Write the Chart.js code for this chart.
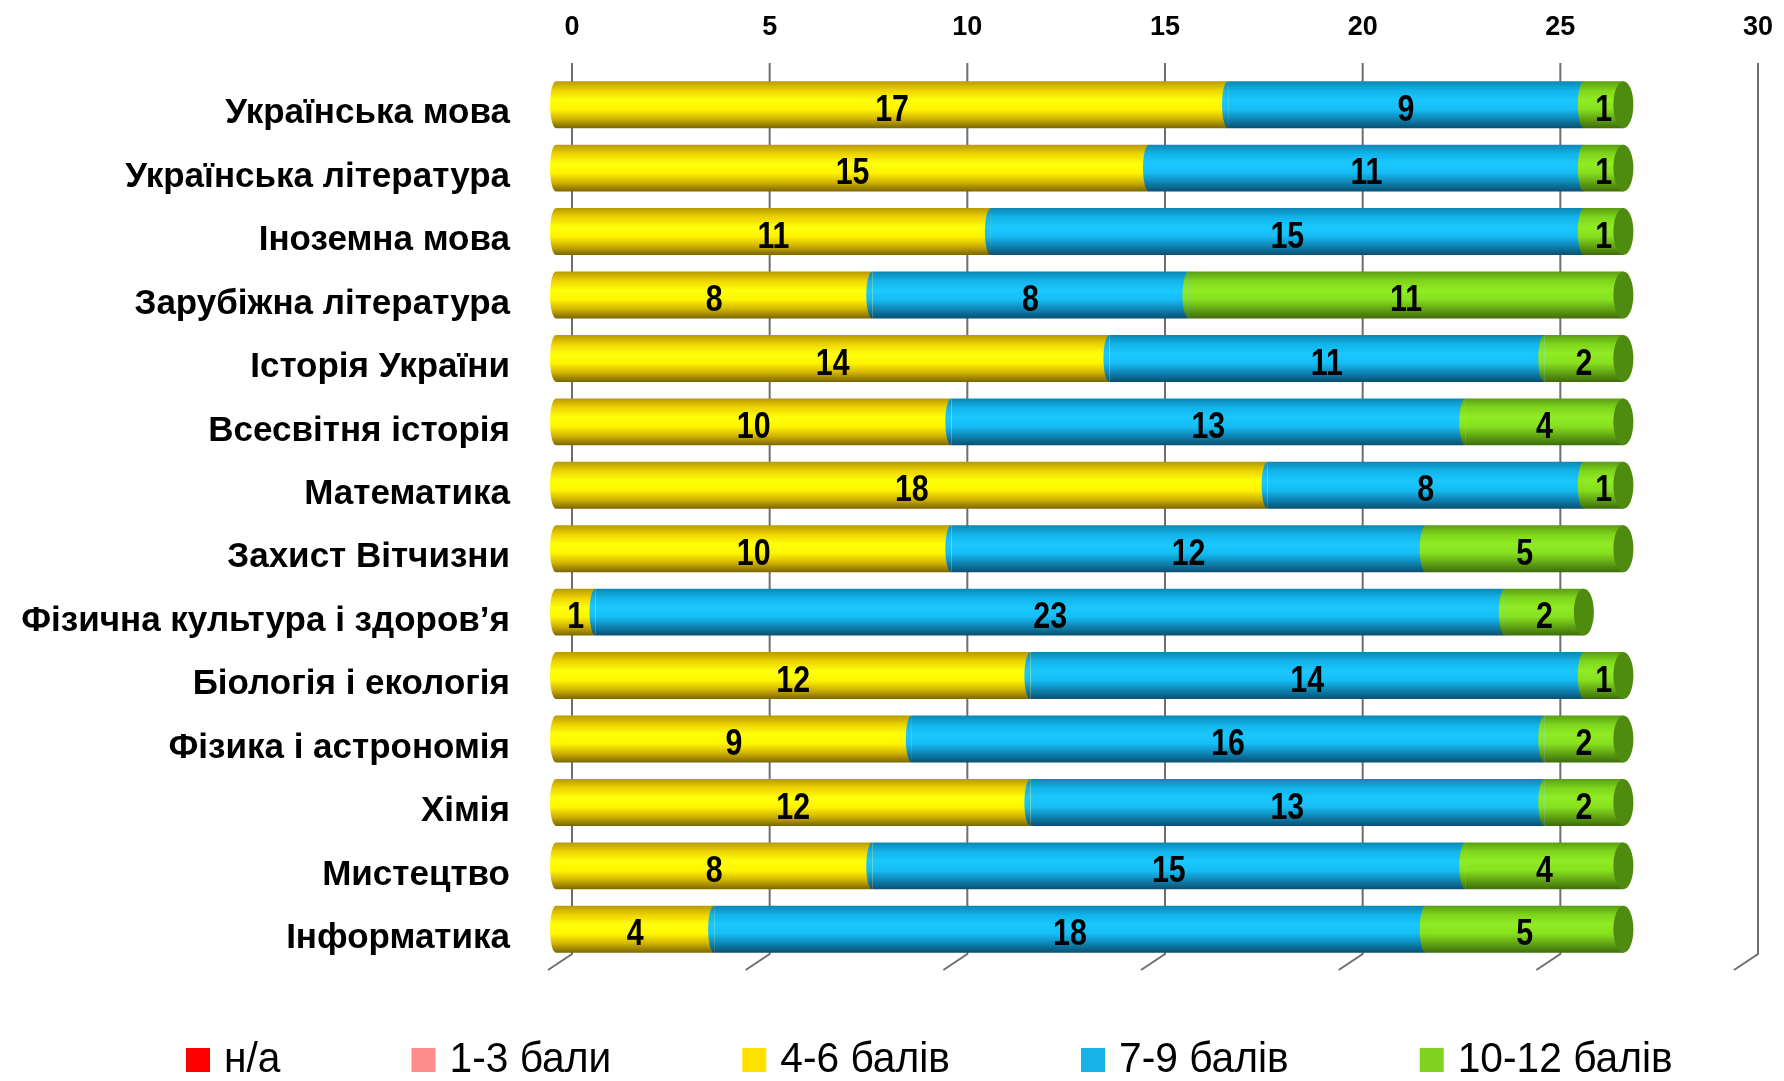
<!DOCTYPE html>
<html lang="uk">
<head>
<meta charset="utf-8">
<title>Розподіл балів за предметами</title>
<script src="https://cdn.jsdelivr.net/npm/chart.js@4.4.1/dist/chart.umd.min.js"></script>
<style>
  html, body { margin: 0; padding: 0; background: #fff; }
  #wrap { width: 1784px; height: 1081px; position: relative; }
</style>
</head>
<body>
<div id="wrap"><canvas id="chart"></canvas></div>
<script>
// subjects, top to bottom
const subjects = [
  'Українська мова', 'Українська література', 'Іноземна мова', 'Зарубіжна література',
  'Історія України', 'Всесвітня історія', 'Математика', 'Захист Вітчизни',
  'Фізична культура і здоров’я', 'Біологія і екологія', 'Фізика і астрономія',
  'Хімія', 'Мистецтво', 'Інформатика'
];

const seriesNames = ['н/а', '1-3 бали', '4-6 балів', '7-9 балів', '10-12 балів'];

// number of pupils in each score band
const naValues      = [0, 0, 0, 0, 0, 0, 0, 0, 0, 0, 0, 0, 0, 0];
const low13Values   = [0, 0, 0, 0, 0, 0, 0, 0, 0, 0, 0, 0, 0, 0];
const mid46Values   = [17, 15, 11, 8, 14, 10, 18, 10, 1, 12, 9, 12, 8, 4];
const good79Values  = [9, 11, 15, 8, 11, 13, 8, 12, 23, 14, 16, 13, 15, 18];
const top1012Values = [1, 1, 1, 11, 2, 4, 1, 5, 2, 1, 2, 2, 4, 5];

const xTicks = [0, 5, 10, 15, 20, 25, 30];

const FAMILY = '"Liberation Sans", Arial, sans-serif';
const BAR_PCT = 0.74;
const DEPTH_X = 16;   // back wall offset of the fake 3d
const CAP_RX = 10;
const EDGE_RX = 6;

// top -> bottom shading of each cylinder
const shading = {
  red:    ['#a00000', '#e00000', '#ff2020', '#f00000', '#b00000', '#700000'],
  pink:   ['#c06060', '#f08080', '#ffa0a0', '#ff9090', '#c06868', '#804040'],
  yellow: ['#b89a00', '#eed400', '#ffff0a', '#fff500', '#d2b400', '#7a6600'],
  blue:   ['#0b86b4', '#12b4ea', '#1ac8ff', '#16bdf5', '#0e86b5', '#0a4f70'],
  green:  ['#5a9e12', '#7fd61c', '#90ec24', '#86e01f', '#62a614', '#3f6c0c']
};
const capColors = ['#9a0000', '#b06060', '#c8a800', '#0c80ad', '#4f8b0f'];
const legendColors = ['#ff0000', '#ff8c8c', '#ffe000', '#18b4e8', '#7fd320'];

function cylinderFill(stops) {
  return (c) => {
    const chart = c.chart;
    if (c.type !== 'data' || !chart.chartArea || !chart.scales.y) return stops[2];
    const ys = chart.scales.y;
    const cy = ys.getPixelForValue(c.dataIndex);
    const half = ys.height / subjects.length * BAR_PCT / 2;
    const g = chart.ctx.createLinearGradient(0, cy - half, 0, cy + half);
    stops.forEach((col, k) => g.addColorStop(k / (stops.length - 1), col));
    return g;
  };
}

function putText(ctx, text, x, y, font, align, squeeze) {
  ctx.save();
  ctx.translate(x, y);
  ctx.scale(squeeze, 1);
  ctx.font = font;
  ctx.textAlign = align;
  ctx.textBaseline = 'middle';
  ctx.fillStyle = '#000';
  ctx.fillText(text, 0, 0);
  ctx.restore();
}

const cylinders = {
  id: 'cylinders',
  beforeDatasetsDraw(chart) {
    const ctx = chart.ctx;
    const xs = chart.scales.x;
    const ys = chart.scales.y;
    const { top, bottom } = chart.chartArea;
    ctx.save();
    ctx.strokeStyle = '#6e6e6e';
    ctx.lineWidth = 2;
    xTicks.forEach(v => {
      const px = xs.getPixelForValue(v) + DEPTH_X;
      ctx.beginPath();
      ctx.moveTo(px, top - 10);
      ctx.lineTo(px, bottom - 7);
      ctx.lineTo(px - 24, bottom + 9);
      ctx.stroke();
    });
    ctx.restore();
    // axis labels
    xTicks.forEach(v => {
      putText(ctx, String(v), xs.getPixelForValue(v) + DEPTH_X, 28, `bold 27px ${FAMILY}`, 'center', 1);
    });
    subjects.forEach((s, i) => {
      putText(ctx, s, ys.right - 46, ys.getPixelForValue(i) + 9, `bold 35px ${FAMILY}`, 'right', 1);
    });
  },
  afterDatasetsDraw(chart) {
    const ctx = chart.ctx;
    ctx.save();
    // rounded left edge of every segment
    chart.data.datasets.forEach((ds, di) => {
      chart.getDatasetMeta(di).data.forEach((bar, i) => {
        if (!ds.data[i]) return;
        const p = bar.getProps(['y', 'base', 'height'], true);
        ctx.fillStyle = bar.options.backgroundColor;
        ctx.beginPath();
        ctx.ellipse(p.base, p.y, EDGE_RX, p.height / 2, 0, Math.PI / 2, Math.PI * 1.5);
        ctx.fill();
      });
    });
    // end face of each cylinder
    subjects.forEach((s, i) => {
      let last = -1;
      chart.data.datasets.forEach((ds, di) => { if (ds.data[i] > 0) last = di; });
      if (last < 0) return;
      const bar = chart.getDatasetMeta(last).data[i];
      const p = bar.getProps(['x', 'y', 'height'], true);
      ctx.fillStyle = capColors[last];
      ctx.beginPath();
      ctx.ellipse(p.x, p.y, CAP_RX, p.height / 2, 0, 0, Math.PI * 2);
      ctx.fill();
    });
    ctx.restore();
    // value labels
    chart.data.datasets.forEach((ds, di) => {
      chart.getDatasetMeta(di).data.forEach((bar, i) => {
        if (!ds.data[i]) return;
        const p = bar.getProps(['x', 'y', 'base'], true);
        putText(ctx, String(ds.data[i]), (p.x + p.base) / 2, p.y + 6, `bold 37px ${FAMILY}`, 'center', 0.82);
      });
    });
  },
  afterDraw(chart) {
    // legend row under the plot
    const ctx = chart.ctx;
    const font = `42px ${FAMILY}`;
    const squeeze = 0.97;
    ctx.save();
    ctx.font = font;
    const box = 24, gapBox = 14, gapItem = 131;
    const widths = seriesNames.map(t => box + gapBox + ctx.measureText(t).width * squeeze);
    ctx.restore();
    let x = 186;
    const y = 1060;
    seriesNames.forEach((t, k) => {
      ctx.fillStyle = legendColors[k];
      ctx.fillRect(x, y - box / 2, box, box);
      putText(ctx, t, x + box + gapBox, y, font, 'left', squeeze);
      x += widths[k] + gapItem;
    });
  }
};

const valueSets = [naValues, low13Values, mid46Values, good79Values, top1012Values];
const shadeKeys = ['red', 'pink', 'yellow', 'blue', 'green'];

new Chart(document.getElementById('chart'), {
  type: 'bar',
  data: {
    labels: subjects,
    datasets: valueSets.map((vals, k) => ({
      label: seriesNames[k],
      data: vals,
      backgroundColor: cylinderFill(shading[shadeKeys[k]]),
      borderWidth: 0,
      categoryPercentage: 1,
      barPercentage: BAR_PCT
    }))
  },
  options: {
    indexAxis: 'y',
    responsive: true,
    maintainAspectRatio: false,
    animation: false,
    layout: { padding: { top: 0, left: 0, right: 42, bottom: 120 } },
    plugins: {
      legend: { display: false },
      tooltip: { enabled: false }
    },
    scales: {
      x: {
        position: 'top',
        stacked: true,
        min: 0,
        max: 30,
        afterBuildTicks: s => { s.ticks = xTicks.map(v => ({ value: v })); },
        afterFit: s => { s.height = 73; },
        grid: { display: false, drawTicks: false },
        border: { display: false },
        ticks: { display: false }
      },
      y: {
        stacked: true,
        afterFit: s => { s.width = 556; },
        grid: { display: false, drawTicks: false },
        border: { display: false },
        ticks: { display: false }
      }
    }
  },
  plugins: [cylinders]
});
</script>
</body>
</html>
